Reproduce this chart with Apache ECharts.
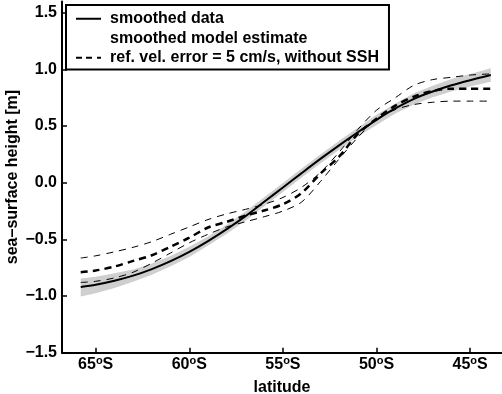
<!DOCTYPE html>
<html>
<head>
<meta charset="utf-8">
<script src="https://cdn.jsdelivr.net/npm/echarts@6/dist/echarts.min.js"></script>
<style>html,body{margin:0;padding:0;background:#fff}#c{width:502px;height:394px}</style>
</head>
<body>
<div id="c"></div>
<script>
// latitude in degrees (negative = south)
var latitude = [-65.8,-65,-64,-63,-62,-61,-60,-59,-58,-57,-56,-55,-54,-53,-52,-51,-50,-49,-48,-47,-46,-45,-43.9];
var smoothedData = [-0.92,-0.90,-0.865,-0.82,-0.762,-0.692,-0.61,-0.515,-0.41,-0.295,-0.168,-0.042,0.085,0.21,0.33,0.445,0.555,0.655,0.74,0.805,0.86,0.905,0.95];
var modelLower = [-1.005,-0.975,-0.93,-0.875,-0.812,-0.737,-0.655,-0.555,-0.45,-0.335,-0.208,-0.082,0.045,0.17,0.29,0.405,0.51,0.61,0.69,0.755,0.805,0.85,0.89];
var modelUpper = [-0.845,-0.83,-0.80,-0.765,-0.712,-0.647,-0.565,-0.475,-0.37,-0.255,-0.128,-0.002,0.125,0.25,0.37,0.485,0.60,0.70,0.79,0.855,0.915,0.96,1.01];
var refMean = [-0.79,-0.775,-0.74,-0.69,-0.64,-0.565,-0.485,-0.395,-0.345,-0.29,-0.245,-0.19,-0.09,0.08,0.23,0.43,0.565,0.68,0.76,0.81,0.83,0.83,0.83];
var refUpper = [-0.665,-0.645,-0.61,-0.57,-0.52,-0.455,-0.39,-0.325,-0.275,-0.235,-0.19,-0.13,-0.04,0.09,0.27,0.47,0.64,0.75,0.86,0.91,0.93,0.95,0.96];
var refLower = [-0.88,-0.87,-0.84,-0.79,-0.71,-0.62,-0.53,-0.455,-0.39,-0.345,-0.30,-0.25,-0.17,0.01,0.21,0.40,0.56,0.645,0.69,0.71,0.72,0.72,0.72];
var xTicks = [-65,-60,-55,-50,-45];
var yTicks = [-1.5,-1.0,-0.5,0.0,0.5,1.0,1.5];

function pairs(ys){ return latitude.map(function(x,i){ return [x, ys[i]]; }); }
var bandData = latitude.map(function(x,i){ return [x, modelLower[i], modelUpper[i]]; });

var FONT = '"Liberation Sans", Arial, sans-serif';
var chart = echarts.init(document.getElementById('c'), null, {renderer:'canvas'});
chart.setOption({
  animation: false,
  backgroundColor: '#fff',
  textStyle: {fontFamily: FONT},
  grid: {left: 62, right: 0, top: 1.4, bottom: 41.3, outerBoundsMode: 'none', containLabel: false},
  legend: {
    orient: 'vertical', left: 66, top: 5,
    backgroundColor: '#fff', borderColor: '#000', borderWidth: 2, borderRadius: 0,
    padding: [4, 10, 2, 10],
    itemWidth: 25, itemHeight: 3, itemGap: 0,
    textStyle: {fontFamily: FONT, fontWeight: 'bold', fontSize: 16, color: '#000', lineHeight: 19.5, padding: [0,0,0,4]},
    data: [
      {name: 'smoothed data', icon: 'path://M0,0H25V2H0Z'},
      {name: 'smoothed model estimate', icon: 'path://M0,0H25V2H0Z', itemStyle: {opacity: 0}},
      {name: 'ref. vel. error = 5 cm/s, without SSH', icon: 'path://M0,0H6V2H0Z M10,0H16V2H10Z M21,0H25V2H21Z'}
    ]
  },
  xAxis: {
    type: 'value', min: -66.8, max: -43.3,
    name: 'latitude', nameLocation: 'middle', nameGap: 24,
    nameTextStyle: {fontFamily: FONT, fontWeight: 'bold', fontSize: 16, color: '#000'},
    splitLine: {show: false},
    axisLine: {onZero: false, lineStyle: {color: '#000', width: 2}},
    axisTick: {inside: true, length: 5, customValues: xTicks, lineStyle: {color: '#000', width: 1.5}},
    axisLabel: {
      customValues: xTicks, margin: 3,
      formatter: function(v){ return '{n|' + Math.round(-v) + '}{o|o}{n|S}'; },
      rich: {
        n: {fontFamily: FONT, fontWeight: 'bold', fontSize: 16, color: '#000', lineHeight: 18},
        o: {fontFamily: FONT, fontWeight: 'bold', fontSize: 11, color: '#000', lineHeight: 18, verticalAlign: 'top', padding: [0,0,8,0]}
      }
    }
  },
  yAxis: {
    type: 'value', min: -1.5, max: 1.6,
    name: 'sea\u2013surface height [m]', nameLocation: 'middle', nameGap: 41, nameRotate: 90,
    nameMoveOverlap: false,
    nameTextStyle: {fontFamily: FONT, fontWeight: 'bold', fontSize: 16, color: '#000'},
    splitLine: {show: false},
    axisLine: {onZero: false, lineStyle: {color: '#000', width: 2}},
    axisTick: {inside: true, length: 5, customValues: yTicks, lineStyle: {color: '#000', width: 1.5}},
    axisLabel: {
      customValues: yTicks, margin: 5,
      fontFamily: FONT, fontWeight: 'bold', fontSize: 16, color: '#000',
      formatter: function(v){ var s = Math.abs(v).toFixed(1); return v < -1e-9 ? '\u2212' + s : s; }
    }
  },
  series: [
    {name: 'smoothed model estimate', type: 'custom', data: bandData, silent: true, z: 1,
     itemStyle: {color: '#cfcfcf'},
     encode: {x: 0, y: [1, 2]},
     renderItem: function(params, api){
       if (params.dataIndex !== 0) return null;
       var top = [], bot = [];
       for (var i = 0; i < bandData.length; i++) {
         top.push(api.coord([bandData[i][0], bandData[i][2]]));
         bot.push(api.coord([bandData[i][0], bandData[i][1]]));
       }
       return {type: 'polygon', shape: {points: top.concat(bot.reverse())},
               style: {fill: '#cfcfcf', stroke: null}};
     }},
    {name: 'ref. vel. error = 5 cm/s, without SSH', type: 'line', data: pairs(refUpper), symbol: 'none', smooth: 0.3,
     lineStyle: {color: '#000', width: 1, type: [7, 6]}, itemStyle: {color: '#000'}, z: 2},
    {name: 'ref. vel. error = 5 cm/s, without SSH', type: 'line', data: pairs(refLower), symbol: 'none', smooth: 0.3,
     lineStyle: {color: '#000', width: 1, type: [7, 6]}, itemStyle: {color: '#000'}, z: 2},
    {name: 'ref. vel. error = 5 cm/s, without SSH', type: 'line', data: pairs(refMean), symbol: 'none', smooth: 0.3,
     lineStyle: {color: '#000', width: 2.5, type: [7, 5]}, itemStyle: {color: '#000'}, z: 3},
    {name: 'smoothed data', type: 'line', data: pairs(smoothedData), symbol: 'none', smooth: 0.3,
     lineStyle: {color: '#000', width: 2}, itemStyle: {color: '#000'}, z: 4}
  ]
});
</script>
</body>
</html>
